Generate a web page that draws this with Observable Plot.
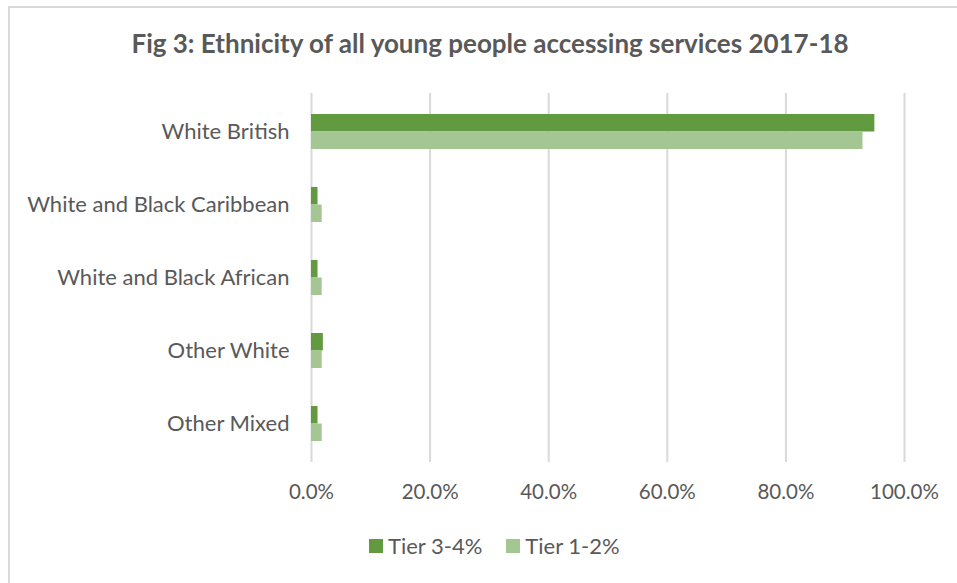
<!DOCTYPE html>
<html>
<head>
<meta charset="utf-8">
<script src="https://cdn.jsdelivr.net/npm/d3@7"></script>
<script src="https://cdn.jsdelivr.net/npm/@observablehq/plot@0.6"></script>
<style>
  html, body { margin: 0; padding: 0; background: #fff; }
  #wrap { position: relative; width: 957px; height: 583px; overflow: hidden; font-family: Lato, "Open Sans", sans-serif; }
  #frame { position: absolute; left: 8px; top: 6px; width: 1000px; height: 700px; border-top: 2px solid #d9d9d9; border-left: 2px solid #d9d9d9; }
  #title { position: absolute; left: 0; width: 980px; top: 27px; text-align: center; font-size: 26px; font-weight: bold; color: #595959; }
  #chart { position: absolute; left: 0; top: 80px; }
  #legend { position: absolute; top: 532px; left: 369px; font-size: 22px; color: #595959; display: flex; align-items: center; }
  .sw { display: inline-block; width: 14px; height: 14px; margin-right: 5px; }
  .item { display: flex; align-items: center; margin-right: 24px; }
</style>
</head>
<body>
<div id="wrap">
  <div id="frame"></div>
  <div id="title">Fig 3: Ethnicity of all young people accessing services 2017-18</div>
  <div id="chart"></div>
  <div id="legend"></div>
</div>
<script>
const categories = ["White British", "White and Black Caribbean", "White and Black African", "Other White", "Other Mixed"];
const seriesNames = ["Tier 3-4%", "Tier 1-2%"];
const tier34 = [0.95, 0.011, 0.011, 0.02, 0.011];
const tier12 = [0.93, 0.018, 0.018, 0.018, 0.018];
const xTicks = [0, 0.2, 0.4, 0.6, 0.8, 1.0];
const colors = ["#629a3f", "#a4c692"];

const rows34 = categories.map((c, i) => ({category: c, value: tier34[i]}));
const rows12 = categories.map((c, i) => ({category: c, value: tier12[i]}));

const bandH = 35;
const chart = Plot.plot({
  width: 957,
  height: 440,
  marginLeft: 311,
  marginRight: 53,
  marginTop: 13,
  marginBottom: 58,
  style: {fontFamily: "Lato, 'Open Sans', sans-serif", color: "#595959", background: "transparent"},
  x: {domain: [0, 1], label: null},
  y: {domain: categories, paddingInner: 0.52, paddingOuter: 0.26, label: null},
  marks: [
    Plot.ruleX(xTicks, {stroke: "#d9d9d9", strokeWidth: 2}),
    Plot.barX(rows34, {x: "value", y: "category", fill: colors[0], insetBottom: bandH / 2}),
    Plot.barX(rows12, {x: "value", y: "category", fill: colors[1], insetTop: bandH / 2}),
    Plot.axisX({ticks: xTicks, tickFormat: d => (d * 100).toFixed(1) + "%", tickSize: 0, tickPadding: 22, fontSize: 20.5, label: null}),
    Plot.axisY({tickSize: 0, tickPadding: 22, fontSize: 22, label: null})
  ]
});
document.getElementById("chart").appendChild(chart);

const legend = document.getElementById("legend");
seriesNames.forEach((s, i) => {
  const item = document.createElement("div");
  item.className = "item";
  const sw = document.createElement("span");
  sw.className = "sw";
  sw.style.background = colors[i];
  item.appendChild(sw);
  item.appendChild(document.createTextNode(s));
  legend.appendChild(item);
});
</script>
</body>
</html>
